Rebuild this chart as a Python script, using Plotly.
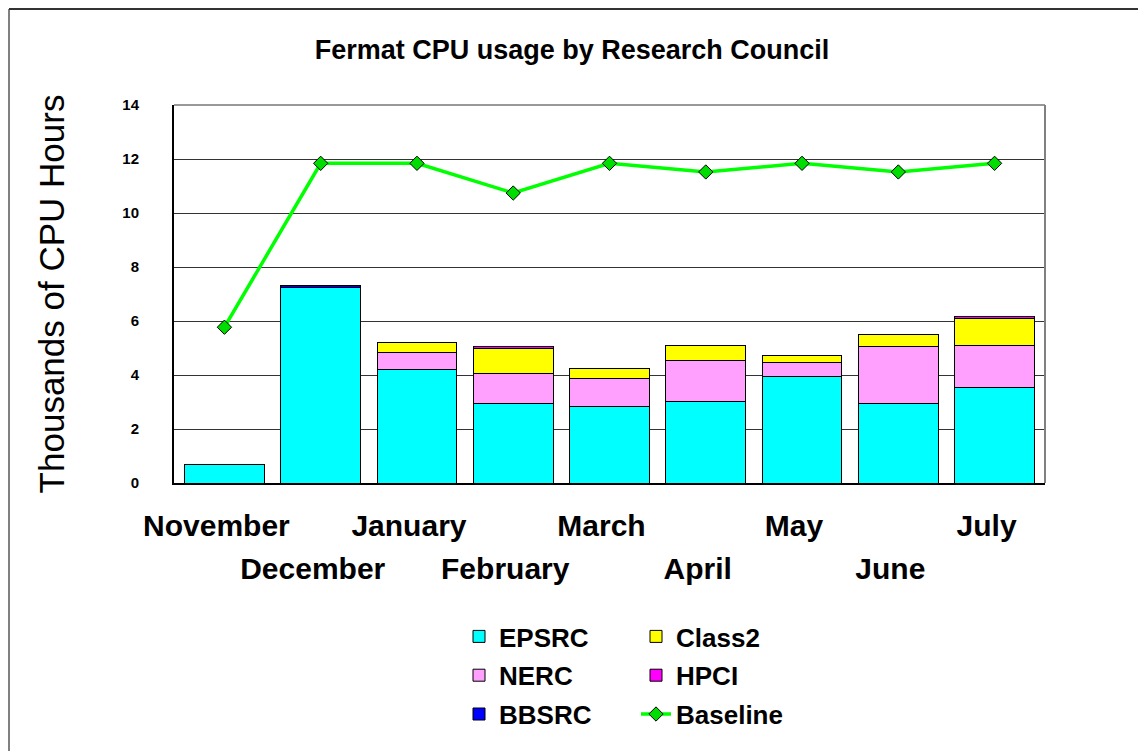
import plotly.graph_objects as go

months = ["November", "December", "January", "February", "March",
          "April", "May", "June", "July"]
epsrc = [0.67, 7.25, 4.20, 2.95, 2.83, 3.02, 3.94, 2.95, 3.54]
nerc = [0.0, 0.0, 0.65, 1.10, 1.04, 1.50, 0.52, 2.10, 1.56]
bbsrc = [0.0, 0.05, 0.0, 0.0, 0.0, 0.0, 0.0, 0.0, 0.0]
class2 = [0.0, 0.0, 0.35, 0.93, 0.38, 0.59, 0.26, 0.46, 1.00]
hpci = [0.0, 0.0, 0.0, 0.07, 0.0, 0.0, 0.0, 0.0, 0.06]
baseline = [5.77, 11.84, 11.84, 10.74, 11.84, 11.52, 11.84, 11.52, 11.84]
y_ticks = [0, 2, 4, 6, 8, 10, 12, 14]

FONT = "Arial, Liberation Sans, sans-serif"
W, H = 1146, 751
OFF = 8  # page body margin
PL, PR, PT, PB = 174, 1045, 105, 483  # plot area in page pixels
ML, MT = PL - OFF, PT - OFF
MR, MB = W + OFF - PR, H + OFF - PB
PW, PH = PR - PL, PB - PT

def px_x(p):
    return (p - PL) / PW

def px_y(p):
    return (PB - p) / PH

fig = go.Figure()
bar_specs = [
    ("EPSRC", epsrc, "#00FFFF", "legend", 1),
    ("NERC", nerc, "#FFA0FF", "legend", 2),
    ("BBSRC", bbsrc, "#0000FF", "legend", 3),
    ("Class2", class2, "#FFFF00", "legend2", 1),
    ("HPCI", hpci, "#FF00FF", "legend2", 2),
]
for name, vals, col, leg, rank in bar_specs:
    fig.add_trace(go.Bar(
        x=months, y=vals, name=name, marker_color=col,
        marker_line=dict(color="black", width=1),
        legend=leg, legendrank=rank, legendgroup=name,
    ))

fig.add_trace(go.Scatter(
    x=months, y=baseline, name="Baseline", mode="lines+markers",
    xaxis="x2",
    line=dict(color="#00FF00", width=3.5),
    marker=dict(symbol="diamond", size=11, color="#00DD00",
                line=dict(color="black", width=1)),
    legend="legend2", legendrank=3, legendgroup="Baseline",
))

odd = months[0::2]
even = months[1::2]

fig.update_layout(
    width=W, height=H,
    margin=dict(l=ML, r=MR, t=MT, b=MB, pad=0),
    paper_bgcolor="white", plot_bgcolor="white",
    barmode="stack", bargap=0.17,
    font=dict(family=FONT, color="black"),
    title=dict(text="<b>Fermat CPU usage by Research Council</b>",
               x=px_x(572), xref="paper", xanchor="center",
               y=1 - (50 - OFF) / H, yanchor="middle",
               font=dict(size=27, family=FONT, color="black")),
    xaxis=dict(
        type="category", categoryarray=months, categoryorder="array",
        tickvals=odd, ticktext=odd, ticks="",
        tickfont=dict(size=30, family=FONT, color="black", weight="bold"),
        ticklabelstandoff=15, ticklabelshift=-8,
        showline=True, linecolor="black", linewidth=2,
        showgrid=False, zeroline=False,
    ),
    xaxis2=dict(
        type="category", overlaying="x", matches="x", side="bottom",
        categoryarray=months, categoryorder="array",
        tickvals=even, ticktext=even, ticks="",
        tickfont=dict(size=30, family=FONT, color="black", weight="bold"),
        ticklabelstandoff=65, ticklabelshift=-8,
        showline=False, showgrid=False, zeroline=False,
    ),
    yaxis=dict(
        range=[0, 14], tickvals=y_ticks, ticktext=[str(v) for v in y_ticks],
        ticks="", ticklabelstandoff=30,
        tickfont=dict(size=15, family=FONT, color="black", weight="bold"),
        showgrid=True, gridcolor="#333333", gridwidth=1,
        showline=True, linecolor="black", linewidth=2,
        zeroline=False,
        title=dict(text="Thousands of CPU Hours", standoff=47,
                   font=dict(size=35, family=FONT, color="black")),
    ),
    legend=dict(
        x=px_x(459), xanchor="left", y=px_y(613), yanchor="top",
        orientation="v", tracegroupgap=2, traceorder="grouped",
        font=dict(size=26, family=FONT, color="black", weight="bold"),
        bgcolor="rgba(0,0,0,0)", borderwidth=0,
    ),
    legend2=dict(
        x=px_x(636), xanchor="left", y=px_y(613), yanchor="top",
        orientation="v", tracegroupgap=2, traceorder="grouped",
        font=dict(size=26, family=FONT, color="black", weight="bold"),
        bgcolor="rgba(0,0,0,0)", borderwidth=0,
    ),
    shapes=[
        dict(type="line", xref="paper", yref="paper",
             x0=0, x1=1, y0=1, y1=1,
             line=dict(color="#333333", width=1)),
        dict(type="line", xref="paper", yref="paper",
             x0=1, x1=1, y0=0, y1=1,
             line=dict(color="#808080", width=2)),
        dict(type="line", xref="paper", yref="paper",
             x0=px_x(9), x1=px_x(9), y0=px_y(9), y1=px_y(760),
             line=dict(color="#808080", width=2)),
        dict(type="line", xref="paper", yref="paper",
             x0=px_x(9), x1=px_x(1160), y0=px_y(9), y1=px_y(9),
             line=dict(color="#333333", width=2)),
    ],
    showlegend=True,
)

fig.write_html("out.html")
